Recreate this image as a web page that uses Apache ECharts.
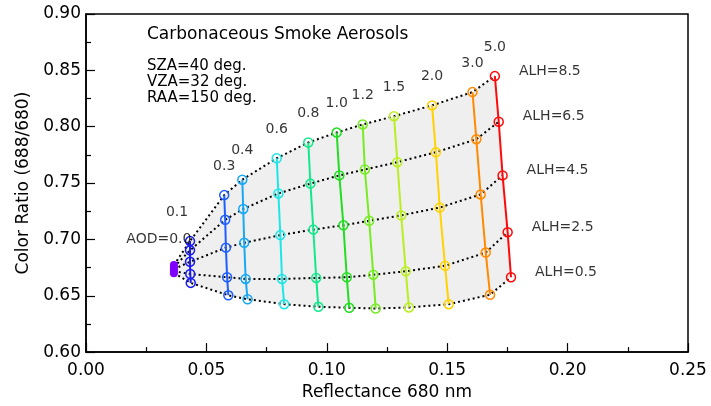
<!DOCTYPE html>
<html><head><meta charset="utf-8">
<script src="https://cdn.jsdelivr.net/npm/echarts@6/dist/echarts.min.js"></script>
<style>html,body{margin:0;padding:0;background:#fff}#c{width:711px;height:406px}</style>
</head><body><div id="c"></div>
<script>
// ---- data (each column: ALH 0.5, 2.5, 4.5, 6.5, 8.5) ----
const aodNames = ['AOD=0.0','0.1','0.3','0.4','0.6','0.8','1.0','1.2','1.5','2.0','3.0','5.0'];
const alhNames = ['ALH=0.5','ALH=2.5','ALH=4.5','ALH=6.5','ALH=8.5'];

const refl_aod00 = [0.0365,0.0365,0.0365,0.0365,0.0365];
const ratio_aod00 = [0.6700,0.6718,0.6736,0.6754,0.6772];
const refl_aod01 = [0.0435,0.0433,0.0432,0.0432,0.0432];
const ratio_aod01 = [0.6614,0.6693,0.6801,0.6903,0.6985];
const refl_aod03 = [0.0591,0.0586,0.0581,0.0578,0.0574];
const ratio_aod03 = [0.6504,0.6664,0.6927,0.7174,0.7393];
const refl_aod04 = [0.0671,0.0663,0.0657,0.0653,0.0649];
const ratio_aod04 = [0.6469,0.6649,0.6970,0.7270,0.7530];
const refl_aod06 = [0.0823,0.0814,0.0807,0.0799,0.0792];
const ratio_aod06 = [0.6425,0.6649,0.7038,0.7408,0.7720];
const refl_aod08 = [0.0965,0.0956,0.0944,0.0932,0.0923];
const ratio_aod08 = [0.6402,0.6658,0.7087,0.7495,0.7860];
const refl_aod10 = [0.1093,0.1083,0.1069,0.1052,0.1041];
const ratio_aod10 = [0.6393,0.6664,0.7125,0.7568,0.7948];
const refl_aod12 = [0.1203,0.1193,0.1176,0.1158,0.1149];
const ratio_aod12 = [0.6387,0.6687,0.7165,0.7620,0.8020];
const refl_aod15 = [0.1341,0.1328,0.1309,0.1293,0.1279];
const ratio_aod15 = [0.6396,0.6717,0.7213,0.7685,0.8093];
const refl_aod20 = [0.1506,0.1491,0.1469,0.1453,0.1437];
const ratio_aod20 = [0.6425,0.6766,0.7283,0.7773,0.8189];
const refl_aod30 = [0.1678,0.1660,0.1639,0.1621,0.1605];
const ratio_aod30 = [0.6509,0.6883,0.7399,0.7889,0.8307];
const refl_aod50 = [0.1765,0.1751,0.1730,0.1714,0.1698];
const ratio_aod50 = [0.6664,0.7064,0.7568,0.8044,0.8449];

const xTicks = [0.00,0.05,0.10,0.15,0.20,0.25];
const yTicks = [0.60,0.65,0.70,0.75,0.80,0.85,0.90];

// ---- styles ----
const colColors = ['#8000ff','#1a1af5','#1f5fff','#1aa8f5','#1ee6e6','#14e88c','#22dd22','#77ec22','#bbee22','#ffd200','#ff8a00','#ff0a0a'];
const F = 'DejaVu Sans';
const labelOffsets = {0:[-15,3], 1:[-13,0]};

const reflCols = [refl_aod00,refl_aod01,refl_aod03,refl_aod04,refl_aod06,refl_aod08,refl_aod10,refl_aod12,refl_aod15,refl_aod20,refl_aod30,refl_aod50];
const ratioCols = [ratio_aod00,ratio_aod01,ratio_aod03,ratio_aod04,ratio_aod06,ratio_aod08,ratio_aod10,ratio_aod12,ratio_aod15,ratio_aod20,ratio_aod30,ratio_aod50];
const cols = reflCols.map((r,c)=>r.map((x,i)=>[x, ratioCols[c][i]]));
const rows = alhNames.map((_,i)=>cols.map(col=>col[i]));

const series = [];
series.push({
  type:'custom', z:1, silent:true, data:[[0.1,0.7]], encode:{x:0,y:1},
  renderItem:function(params, api){
    const pts = [];
    rows[4].forEach(p=>pts.push(api.coord(p)));
    const last = cols[cols.length-1];
    for (let i=3;i>=0;i--) pts.push(api.coord(last[i]));
    for (let c=cols.length-2;c>=0;c--) pts.push(api.coord(rows[0][c]));
    return {type:'polygon', shape:{points:pts}, style:{fill:'#efefef'}};
  }
});
rows.forEach(r=>series.push({
  type:'line', z:2, silent:true, data:r, symbol:'none',
  lineStyle:{color:'#000', width:2, type:[2,3]}
}));
cols.forEach((col,c)=>series.push({
  type:'line', z:3, silent:true, data:col,
  symbol:'circle', symbolSize: c===0?8:9,
  itemStyle: c===0 ? {color:colColors[c]} : {color:'rgba(0,0,0,0)', borderColor:colColors[c], borderWidth:1.5},
  lineStyle:{color:colColors[c], width: c===0?3:2}
}));
series.push({
  type:'scatter', z:4, silent:true, symbolSize:0,
  data: cols.map((col,c)=>({value:col[4], label:{offset: labelOffsets[c]||[0,0]}})),
  label:{show:true, position:'top', distance:22, color:'#000', fontFamily:F, fontSize:14,
    formatter:p=>aodNames[p.dataIndex]}
});
series.push({
  type:'scatter', z:4, silent:true, symbolSize:0,
  data: cols[cols.length-1],
  label:{show:true, position:'right', distance:24, offset:[0,-5], color:'#000', fontFamily:F, fontSize:14,
    formatter:p=>alhNames[p.dataIndex]}
});

const axisCommon = {
  axisLine:{show:true, lineStyle:{color:'#000', width:1.5}},
  axisTick:{show:true, inside:true, length:9, lineStyle:{color:'#000', width:1.2}},
  minorTick:{show:true, splitNumber:2, length:5, lineStyle:{color:'#000', width:1.2}},
  splitLine:{show:false},
  nameTextStyle:{color:'#000', fontFamily:F, fontSize:17}
};

const chart = echarts.init(document.getElementById('c'), null, {renderer:'canvas'});
chart.setOption({
  animation:false,
  backgroundColor:'#fff',
  grid:{left:86, right:23, top:14, bottom:51, show:true, borderColor:'#000', borderWidth:1.5},
  xAxis: Object.assign({}, axisCommon, {
    type:'value', min:xTicks[0], max:xTicks[xTicks.length-1], interval:0.05,
    name:'Reflectance 680 nm', nameLocation:'middle', nameGap:31,
    axisLabel:{color:'#000', fontFamily:F, fontSize:17, margin:10, formatter:v=>v.toFixed(2)}
  }),
  yAxis: Object.assign({}, axisCommon, {
    type:'value', min:yTicks[0], max:yTicks[yTicks.length-1], interval:0.05,
    name:'Color Ratio (688/680)', nameLocation:'middle', nameGap:54,
    axisLabel:{color:'#000', fontFamily:F, fontSize:17, margin:5, formatter:v=>v.toFixed(2)}
  }),
  graphic:[
    {type:'text', left:147, top:26, style:{text:'Carbonaceous Smoke Aerosols', fill:'#000', font:'17px "DejaVu Sans"'}},
    {type:'text', left:147, top:58, style:{text:'SZA=40 deg.\nVZA=32 deg.\nRAA=150 deg.', fill:'#000', font:'15px "DejaVu Sans"', lineHeight:16}}
  ],
  series: series
});
</script></body></html>
